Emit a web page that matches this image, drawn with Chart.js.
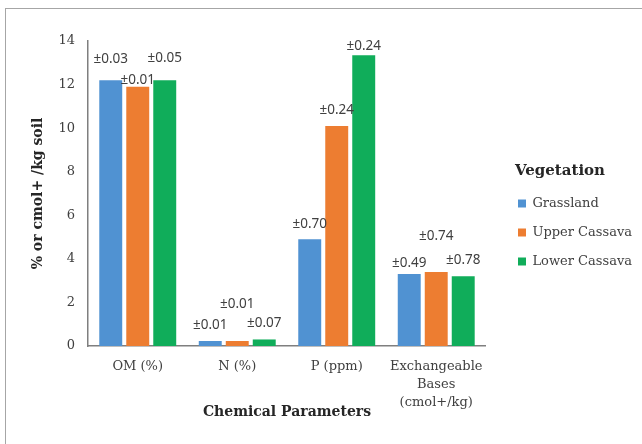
<!DOCTYPE html>
<html>
<head>
<meta charset="utf-8">
<script src="https://cdn.jsdelivr.net/npm/chart.js@4/dist/chart.umd.min.js"></script>
<style>
  body { margin: 0; background: #fff; }
  #wrap { position: relative; width: 642px; height: 444px; }
  #frame { position: absolute; left: 5px; top: 8px; right: 0; bottom: 0;
           border-left: 1.5px solid #a6a6a6; border-top: 1.5px solid #a6a6a6; }
  canvas { position: absolute; left: 0; top: 0; }
</style>
</head>
<body>
<div id="wrap">
  <div id="frame"></div>
  <canvas id="chart" width="642" height="444"></canvas>
</div>
<script>
const categories = ["OM (%)", "N (%)", "P (ppm)", ["Exchangeable", "Bases", "(cmol+/kg)"]];
const seriesNames = ["Grassland", "Upper Cassava", "Lower Cassava"];

const grassland = [12.2, 0.23, 4.9, 3.3];
const upperCassava = [11.9, 0.23, 10.1, 3.4];
const lowerCassava = [12.2, 0.3, 13.35, 3.2];

// standard errors printed above the bars
const grasslandSe = [0.03, 0.01, 0.70, 0.49];
const upperCassavaSe = [0.01, 0.01, 0.24, 0.74];
const lowerCassavaSe = [0.05, 0.07, 0.24, 0.78];

const yTicks = [0, 2, 4, 6, 8, 10, 12, 14];

const colors = ["#5092d2", "#ed7d31", "#10ad5a"];
const errors = [grasslandSe, upperCassavaSe, lowerCassavaSe];
// how far above the bar top each label sits (px), as in the original figure
const labelLift = [
  [21, 16, 15, 11],
  [7, 37, 16, 36],
  [22, 16, 9, 16]
];

const serif = "'DejaVu Serif', serif";
const textColor = "#404040";

const errorLabels = {
  id: "errorLabels",
  afterDatasetsDraw(chart) {
    const ctx = chart.ctx;
    ctx.save();
    ctx.font = "13.5px 'Noto Sans', sans-serif";
    ctx.fillStyle = textColor;
    ctx.textAlign = "center";
    ctx.textBaseline = "middle";
    chart.data.datasets.forEach((ds, i) => {
      chart.getDatasetMeta(i).data.forEach((bar, j) => {
        ctx.fillText("±" + errors[i][j].toFixed(2), bar.x, bar.y - labelLift[i][j]);
      });
    });
    ctx.restore();
  }
};

// legend sits a bit further right of the plot, with its own title
const legendPlace = {
  id: "legendPlace",
  afterLayout(chart) {
    const lg = chart.legend;
    const dx = chart.chartArea.right + 16 - lg.left;
    lg.left += dx;
    lg.right += dx;
  },
  afterDraw(chart) {
    const hit = chart.legend.legendHitBoxes[0];
    const ctx = chart.ctx;
    ctx.save();
    ctx.font = "bold 15px " + serif;
    ctx.fillStyle = "#262626";
    ctx.textAlign = "left";
    ctx.textBaseline = "middle";
    ctx.fillText("Vegetation", hit.left - 3, hit.top + hit.height / 2 - 32);
    ctx.restore();
  }
};

new Chart(document.getElementById("chart"), {
  type: "bar",
  data: {
    labels: categories,
    datasets: [
      { label: seriesNames[0], data: grassland, backgroundColor: colors[0] },
      { label: seriesNames[1], data: upperCassava, backgroundColor: colors[1] },
      { label: seriesNames[2], data: lowerCassava, backgroundColor: colors[2] }
    ]
  },
  options: {
    responsive: false,
    animation: false,
    categoryPercentage: 0.814,
    barPercentage: 0.85,
    layout: { padding: { left: 6, right: 16, top: 41, bottom: 20 } },
    plugins: {
      tooltip: { enabled: false },
      legend: {
        position: "right",
        align: "center",
        labels: {
          boxWidth: 8,
          boxHeight: 8,
          padding: 16,
          color: textColor,
          font: { family: serif, size: 13 }
        }
      }
    },
    scales: {
      x: {
        grid: { display: false, drawTicks: false },
        border: { color: "#7f7f7f", width: 1.5 },
        ticks: {
          color: textColor,
          padding: 12,
          maxRotation: 0,
          font: { family: serif, size: 13, lineHeight: 1.385 }
        },
        title: {
          display: true,
          text: "Chemical Parameters",
          color: "#262626",
          font: { family: serif, size: 14, weight: "bold" },
          padding: { top: -8, bottom: 3 }
        },
        afterFit(s) { s.height = 78; }
      },
      y: {
        min: 0,
        max: 14,
        afterBuildTicks(s) { s.ticks = yTicks.map(v => ({ value: v })); },
        grid: { display: false, drawTicks: false },
        border: { color: "#7f7f7f", width: 1.5 },
        ticks: {
          color: textColor,
          padding: 13,
          font: { family: serif, size: 13 }
        },
        title: {
          display: true,
          text: "% or cmol+ /kg soil",
          color: "#262626",
          font: { family: serif, size: 14, weight: "bold" },
          padding: { top: 23.6, bottom: 0 }
        },
        afterFit(s) { s.width = 82; }
      }
    }
  },
  plugins: [errorLabels, legendPlace]
});
</script>
</body>
</html>
